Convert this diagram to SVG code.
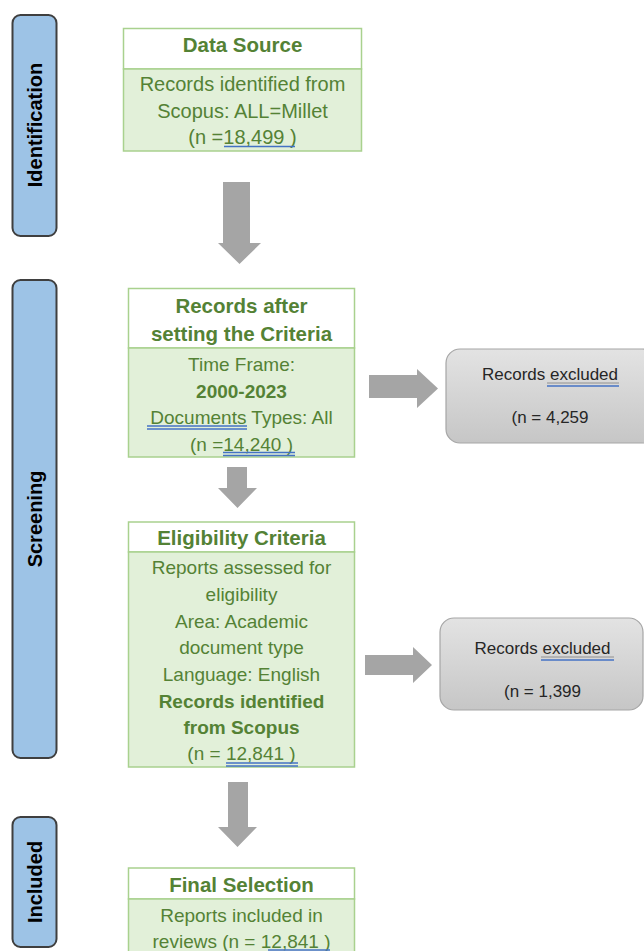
<svg xmlns="http://www.w3.org/2000/svg" width="644" height="951" viewBox="0 0 644 951">
  <defs>
    <linearGradient id="greyFill" x1="0" y1="0" x2="0" y2="1">
      <stop offset="0" stop-color="#E3E3E3"/>
      <stop offset="1" stop-color="#C6C6C6"/>
    </linearGradient>
    <style>
      .phase { fill: #9DC3E6; stroke: #3F3F3F; stroke-width: 2; }
      .phase-label { font-family: "Liberation Sans", Arial, sans-serif; font-weight: bold; font-size: 20px; fill: #000; text-anchor: middle; }
      .head { fill: #FFFFFF; stroke: #A9D18E; stroke-width: 1.5; }
      .body { fill: #E2F0D9; stroke: #A9D18E; stroke-width: 1.5; }
      .title { font-family: "Liberation Sans", Arial, sans-serif; font-weight: bold; font-size: 20.5px; fill: #548235; text-anchor: middle; }
      .txt { font-family: "Liberation Sans", Arial, sans-serif; font-size: 19px; fill: #548235; text-anchor: middle; }
      .txt-lg { font-size: 20px; }
      .bold { font-weight: bold; }
      .excl { fill: url(#greyFill); stroke: #A6A6A6; stroke-width: 1.2; }
      .excl-txt { font-family: "Liberation Sans", Arial, sans-serif; font-size: 17px; fill: #262626; text-anchor: middle; }
      .arrow { fill: #A5A5A5; }
      .spell { stroke: #4472C4; stroke-width: 1.3; fill: none; }
      .uline { stroke: #7F7F7F; stroke-width: 0.8; fill: none; }
    </style>
  </defs>

  <rect width="644" height="951" fill="#FFFFFF"/>

  <!-- phase bars -->
  <g id="phase-identification">
    <rect class="phase" x="12.5" y="15" width="44" height="221" rx="8"/>
    <text class="phase-label" transform="translate(42,125) rotate(-90)">Identification</text>
  </g>
  <g id="phase-screening">
    <rect class="phase" x="12.5" y="280" width="44" height="478" rx="8"/>
    <text class="phase-label" transform="translate(42,519) rotate(-90)">Screening</text>
  </g>
  <g id="phase-included">
    <rect class="phase" x="12.5" y="817" width="44" height="130" rx="8"/>
    <text class="phase-label" transform="translate(42,882) rotate(-90)">Included</text>
  </g>

  <!-- connectors -->
  <g id="connectors">
    <polygon class="arrow" points="223,182 250,182 250,243 261,243 239.5,264 218,243 223,243"/>
    <polygon class="arrow" points="227,467 247,467 247,488 257,488 237.5,508 218,488 227,488"/>
    <polygon class="arrow" points="228,782 248,782 248,827 257,827 237.5,847 218,827 228,827"/>
    <polygon class="arrow" points="369,375 417,375 417,369 438,388.5 417,408 417,398 369,398"/>
    <polygon class="arrow" points="365,655 413,655 413,647 432,665 413,683 413,675 365,675"/>
  </g>

  <!-- Data Source -->
  <g id="node-data-source">
    <rect class="head" x="123.5" y="28.5" width="238" height="40.5"/>
    <rect class="body" x="123.5" y="69" width="238" height="82"/>
    <text class="title" x="242.5" y="52">Data Source</text>
    <text class="txt txt-lg" x="242.5" y="91">Records identified from</text>
    <text class="txt txt-lg" x="242.5" y="118">Scopus: ALL=Millet</text>
    <text class="txt txt-lg" x="242.5" y="144">(n =18,499 )</text>
    <line class="spell" x1="224" y1="146.5" x2="295" y2="146.5"/>
  </g>

  <!-- Records after setting the Criteria -->
  <g id="node-criteria">
    <rect class="head" x="128.5" y="288.5" width="226" height="59.5"/>
    <rect class="body" x="128.5" y="348" width="226" height="109"/>
    <text class="title" x="241.5" y="313">Records after</text>
    <text class="title" x="241.5" y="341">setting the Criteria</text>
    <text class="txt" x="241.5" y="371">Time Frame:</text>
    <text class="txt bold" x="241.5" y="398">2000-2023</text>
    <text class="txt" x="241.5" y="424">Documents Types: All</text>
    <text class="txt" x="241.5" y="451">(n =14,240 )</text>
    <line class="spell" x1="147" y1="426" x2="247" y2="426"/>
    <line class="spell" x1="147" y1="429" x2="247" y2="429"/>
    <line class="spell" x1="223" y1="452.5" x2="295" y2="452.5"/>
    <line class="spell" x1="223" y1="455.5" x2="295" y2="455.5"/>
  </g>

  <!-- Records excluded (first) -->
  <g id="node-excluded-1">
    <rect class="excl" x="446" y="349" width="210" height="94" rx="14"/>
    <text class="excl-txt" x="550" y="380">Records excluded</text>
    <line class="uline" x1="547" y1="383" x2="619" y2="383"/>
    <line class="spell" x1="547" y1="386" x2="619" y2="386"/>
    <text class="excl-txt" x="550" y="423">(n = 4,259</text>
  </g>

  <!-- Eligibility Criteria -->
  <g id="node-eligibility">
    <rect class="head" x="128.5" y="522" width="226" height="30"/>
    <rect class="body" x="128.5" y="552" width="226" height="215"/>
    <text class="title" x="241.5" y="545">Eligibility Criteria</text>
    <text class="txt" x="241.5" y="574">Reports assessed for</text>
    <text class="txt" x="241.5" y="601">eligibility</text>
    <text class="txt" x="241.5" y="628">Area: Academic</text>
    <text class="txt" x="241.5" y="654">document type</text>
    <text class="txt" x="241.5" y="681">Language: English</text>
    <text class="txt bold" x="241.5" y="708">Records identified</text>
    <text class="txt bold" x="241.5" y="734">from Scopus</text>
    <text class="txt" x="241.5" y="760">(n = 12,841 )</text>
    <line class="spell" x1="226" y1="763" x2="298" y2="763"/>
    <line class="spell" x1="226" y1="766" x2="298" y2="766"/>
  </g>

  <!-- Records excluded (second) -->
  <g id="node-excluded-2">
    <rect class="excl" x="440" y="618" width="203" height="92" rx="14"/>
    <text class="excl-txt" x="542.5" y="654">Records excluded</text>
    <line class="uline" x1="541" y1="657" x2="614" y2="657"/>
    <line class="spell" x1="541" y1="660" x2="614" y2="660"/>
    <text class="excl-txt" x="542.5" y="697">(n = 1,399</text>
  </g>

  <!-- Final Selection -->
  <g id="node-final">
    <rect class="head" x="128.5" y="868" width="226" height="31"/>
    <rect class="body" x="128.5" y="899" width="226" height="60"/>
    <text class="title" x="241.5" y="892">Final Selection</text>
    <text class="txt" x="241.5" y="922">Reports included in</text>
    <text class="txt" x="241.5" y="948">reviews (n = 12,841 )</text>
    <line class="spell" x1="268" y1="950" x2="330" y2="950"/>
  </g>
</svg>
